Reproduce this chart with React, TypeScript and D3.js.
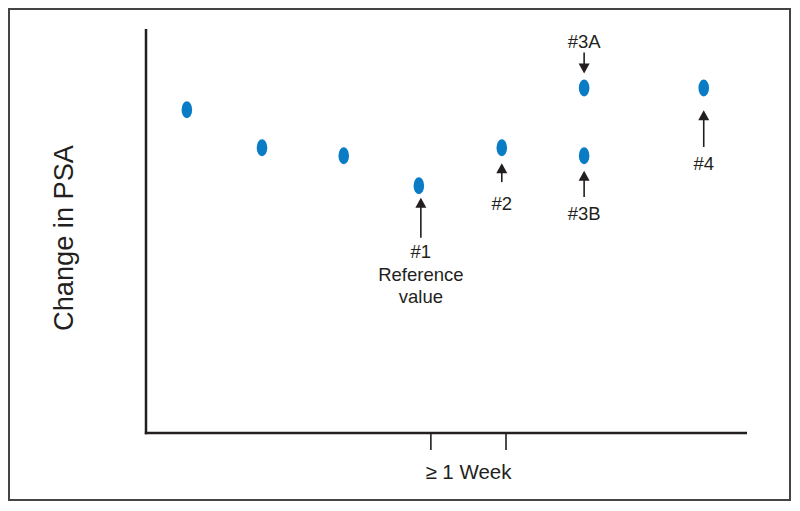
import React from "react";
import * as d3 from "d3";

// Data (arbitrary units)
const pointX = [6.8, 19.3, 32.9, 45.4, 59.2, 72.9, 72.9, 92.8];
const pointY = [80.0, 70.6, 68.6, 61.2, 70.6, 85.4, 68.6, 85.4];
const tickX = [47.4, 59.9];
const xAxisLabel = "\u2265 1 Week";
const yAxisLabel = "Change in PSA";

// Annotations: point index, direction ("up" arrow below point, "down" arrow above point), labels
const annPoint = [3, 4, 5, 6, 7];
const annDir = ["up", "up", "down", "up", "up"];
const annLabels = [["#1", "Reference", "value"], ["#2"], ["#3A"], ["#3B"], ["#4"]];
// arrow spans in data-units (y values): [tip, tail]
const annTip = [58.2, 66.8, 89.0, 64.9, 79.9];
const annTail = [48.3, 62.1, 94.2, 58.4, 70.8];
const annLabelY = [43.3, 55.2, 95.3, 52.7, 65.1];

const W = 800;
const H = 511;

export default function App() {
  const x = d3.scaleLinear().domain([0, 100]).range([146, 747]);
  const y = d3.scaleLinear().domain([0, 100]).range([433, 29]);
  const font = "'Liberation Sans', Arial, Helvetica, sans-serif";
  const ink = "#231f20";

  return (
    <svg
      width={W}
      height={H}
      style={{ position: "absolute", left: 0, top: 0, display: "block", background: "#fff" }}
      fontFamily={font}
    >
      <rect x={9} y={9} width={781} height={491} fill="none" stroke="#444" strokeWidth={2} />
      {/* axes */}
      <line x1={x(0)} x2={x(0)} y1={y(100)} y2={y(0) + 1.2} stroke={ink} strokeWidth={2.5} />
      <line x1={x(0) - 1.2} x2={x(100)} y1={y(0)} y2={y(0)} stroke={ink} strokeWidth={2.5} />
      {tickX.map((t, i) => (
        <line key={i} x1={x(t)} x2={x(t)} y1={y(0)} y2={y(0) + 17} stroke={ink} strokeWidth={1.6} />
      ))}
      <text x={(x(tickX[0]) + x(tickX[1])) / 2} y={479} textAnchor="middle" fontSize={20.5} fill={ink}>
        {xAxisLabel}
      </text>
      <text
        transform={`translate(73,238) rotate(-90)`}
        textAnchor="middle"
        fontSize={27}
        textLength={186}
        lengthAdjust="spacingAndGlyphs"
        fill={ink}
      >
        {yAxisLabel}
      </text>
      {/* points */}
      {pointX.map((px, i) => (
        <ellipse key={i} cx={x(px)} cy={y(pointY[i])} rx={5.3} ry={8.5} fill="#0a7cc6" />
      ))}
      {/* annotations */}
      {annPoint.map((pi, i) => {
        const cx = x(pointX[pi]) + (pi === 3 ? 2 : 0);
        const tip = y(annTip[i]);
        const tail = y(annTail[i]);
        const dir = annDir[i] === "up" ? 1 : -1;
        const head = 10 * dir;
        const ly = y(annLabelY[i]);
        return (
          <g key={i}>
            <line x1={cx} x2={cx} y1={tip + head * 0.8} y2={tail} stroke={ink} strokeWidth={1.6} />
            <path d={`M${cx},${tip} L${cx - 5.5},${tip + head} L${cx + 5.5},${tip + head} Z`} fill={ink} />
            {annLabels[i].map((t, j) => (
              <text key={j} x={cx} y={ly + j * 22.5} textAnchor="middle" fontSize={18.5} fill={ink}>
                {t}
              </text>
            ))}
          </g>
        );
      })}
    </svg>
  );
}
